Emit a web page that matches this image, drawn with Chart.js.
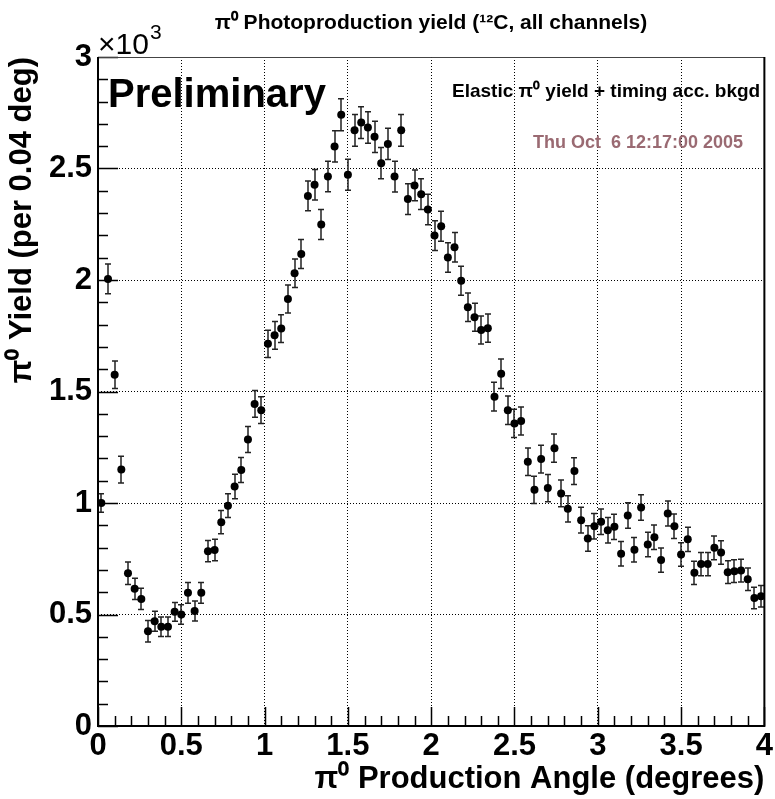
<!DOCTYPE html>
<html>
<head>
<meta charset="utf-8">
<title>pi0 photoproduction yield</title>
<script src="https://cdn.jsdelivr.net/npm/chart.js@4.4.0/dist/chart.umd.min.js"></script>
<style>
  html, body { margin: 0; padding: 0; background: #fff; }
  #wrap { width: 775px; height: 799px; }
</style>
</head>
<body>
<div id="wrap"><canvas id="yieldChart" width="775" height="799"></canvas></div>
<script>
// binning of the angle histogram: 100 bins of 0.04 deg from 0 to 4 deg
const angleMin = 0;
const angleMax = 4;
const binWidth = 0.04;

// yield per bin (counts)
const yields = [
  1000, 2005, 1575, 1150, 685, 615, 570, 425, 470, 445,
  445, 512, 500, 597, 516, 597, 784, 789, 914, 988,
  1074, 1148, 1285, 1444, 1416, 1714, 1752, 1782, 1915, 2030,
  2117, 2377, 2427, 2249, 2464, 2599, 2741, 2472, 2671, 2706,
  2684, 2642, 2524, 2610, 2464, 2671, 2363, 2424, 2385, 2316,
  2199, 2241, 2101, 2147, 1997, 1878, 1833, 1776, 1784, 1477,
  1580, 1416, 1357, 1368, 1185, 1059, 1197, 1067, 1246, 1043,
  974, 1143, 923, 841, 896, 916, 878, 893, 772, 944,
  790, 980, 814, 846, 744, 953, 896, 769, 837, 687,
  726, 726, 799, 778, 690, 694, 697, 658, 574, 582
];

// statistical error per bin (counts)
const yieldErrors = [
  42, 67, 62, 60, 50, 48, 48, 48, 45, 44,
  44, 42, 44, 46, 45, 46, 48, 48, 52, 53,
  55, 56, 58, 60, 60, 61, 62, 62, 63, 64,
  65, 67, 68, 67, 68, 70, 72, 70, 71, 71,
  71, 70, 70, 70, 69, 71, 69, 69, 69, 68,
  67, 67, 66, 66, 65, 64, 63, 63, 63, 65,
  66, 64, 63, 63, 62, 61, 62, 61, 63, 60,
  59, 60, 58, 57, 57, 57, 57, 57, 55, 57,
  55, 57, 55, 55, 54, 56, 55, 53, 54, 52,
  52, 52, 53, 53, 51, 51, 51, 50, 48, 48
];

const xTickLabels = ['0', '0.5', '1', '1.5', '2', '2.5', '3', '3.5', '4'];
const yTickLabels = ['0', '0.5', '1', '1.5', '2', '2.5', '3'];

const binCenters = yields.map((_, i) => angleMin + (i + 0.5) * binWidth);
const points = yields.map((v, i) => ({ x: binCenters[i], y: v }));

const FONT = '"Liberation Sans", Arial, Helvetica, sans-serif';
Chart.defaults.font.family = FONT;
Chart.defaults.color = '#000';

// ROOT-like frame, inner ticks, error bars and labels
const rootStyle = {
  id: 'rootStyle',
  beforeDatasetsDraw(chart) {
    const { ctx, scales: { x, y } } = chart;
    ctx.save();
    ctx.strokeStyle = '#222';
    ctx.lineWidth = 1.5;
    yields.forEach((v, i) => {
      const px = Math.round(x.getPixelForValue(binCenters[i]));
      const top = y.getPixelForValue(v + yieldErrors[i]);
      const bot = y.getPixelForValue(v - yieldErrors[i]);
      ctx.beginPath();
      ctx.moveTo(px, top); ctx.lineTo(px, bot);
      ctx.moveTo(px - 3, top); ctx.lineTo(px + 3, top);
      ctx.moveTo(px - 3, bot); ctx.lineTo(px + 3, bot);
      ctx.stroke();
    });
    ctx.restore();
  },
  afterDraw(chart) {
    const { ctx, chartArea: a, scales: { x, y } } = chart;
    ctx.save();
    ctx.strokeStyle = '#000';

    // tick marks inside the frame
    ctx.lineWidth = 1.5;
    ctx.beginPath();
    for (let k = 0; k <= 40; k++) {
      const px = Math.round(x.getPixelForValue(k * 0.1)) + 0.5;
      const len = k % 5 === 0 ? 19 : 10;
      ctx.moveTo(px, a.bottom); ctx.lineTo(px, a.bottom - len);
    }
    for (let k = 0; k <= 30; k++) {
      const py = Math.round(y.getPixelForValue(k * 100)) + 0.5;
      const len = k % 5 === 0 ? 20 : 10;
      ctx.moveTo(a.left, py); ctx.lineTo(a.left + len, py);
    }
    ctx.stroke();

    // frame
    ctx.lineWidth = 1;
    ctx.strokeStyle = '#444';
    ctx.beginPath();
    ctx.moveTo(a.left, a.top + 0.5); ctx.lineTo(a.right, a.top + 0.5);
    ctx.stroke();
    ctx.strokeStyle = '#000';
    ctx.lineWidth = 2;
    ctx.beginPath();
    ctx.moveTo(a.left, a.top); ctx.lineTo(a.left, a.bottom);
    ctx.lineTo(a.right, a.bottom); ctx.lineTo(a.right, a.top);
    ctx.stroke();

    // exponent of the y axis
    ctx.fillStyle = '#000';
    ctx.textBaseline = 'alphabetic';
    ctx.textAlign = 'left';
    ctx.font = '30px ' + FONT;
    ctx.fillText('\u00d710', a.left, 54);
    const w = ctx.measureText('\u00d710').width;
    ctx.font = '21px ' + FONT;
    ctx.fillText('3', a.left + w + 1, 39);

    // title
    ctx.font = 'bold 21px ' + FONT;
    ctx.textAlign = 'center';
    ctx.fillText('\u03c0\u2070 Photoproduction yield (\u00b9\u00b2C, all channels)', 431, 29);

    ctx.textAlign = 'left';
    ctx.font = 'bold 40px ' + FONT;
    ctx.fillText('Preliminary', 108, 107);

    ctx.font = 'bold 19px ' + FONT;
    ctx.fillText('Elastic \u03c0\u2070 yield + timing acc. bkgd', 452, 97);

    ctx.font = 'bold 18px ' + FONT;
    ctx.fillStyle = '#9a6a72';
    ctx.fillText('Thu Oct  6 12:17:00 2005', 533, 148);
    ctx.restore();
  }
};

const ctx = document.getElementById('yieldChart').getContext('2d');
const yieldChart = new Chart(ctx, {
  type: 'scatter',
  data: {
    datasets: [{
      label: 'yield',
      data: points,
      pointRadius: 4,
      pointHoverRadius: 4,
      pointBackgroundColor: '#000',
      pointBorderWidth: 0
    }]
  },
  options: {
    responsive: false,
    animation: false,
    events: [],
    layout: { padding: { top: 57, right: 8, left: 0, bottom: 0 } },
    plugins: {
      legend: { display: false },
      title: { display: false },
      tooltip: { enabled: false }
    },
    scales: {
      x: {
        type: 'linear',
        min: angleMin,
        max: angleMax,
        afterFit: s => { s.height = 73; },
        ticks: {
          stepSize: 0.5,
          padding: 2,
          maxRotation: 0,
          font: { size: 31, weight: 'bold' },
          callback: (v, i) => xTickLabels[i]
        },
        grid: { color: '#000', lineWidth: 1, drawTicks: false },
        border: { display: false, dash: [1, 2] },
        title: {
          display: true,
          text: '\u03c0\u2070 Production Angle (degrees)',
          align: 'end',
          font: { size: 31, weight: 'bold' },
          padding: { top: 0, bottom: 1 }
        }
      },
      y: {
        min: 0,
        max: 3000,
        afterFit: s => { s.width = 98; },
        ticks: {
          stepSize: 500,
          padding: 6,
          font: { size: 31, weight: 'bold' },
          callback: (v, i) => yTickLabels[i]
        },
        grid: { color: '#000', lineWidth: 1, drawTicks: false },
        border: { display: false, dash: [1, 2] },
        title: {
          display: true,
          text: '\u03c0\u2070 Yield (per 0.04 deg)',
          align: 'end',
          font: { size: 31, weight: 'bold' },
          padding: { top: 4, bottom: 0 }
        }
      }
    }
  },
  plugins: [rootStyle]
});
</script>
</body>
</html>
